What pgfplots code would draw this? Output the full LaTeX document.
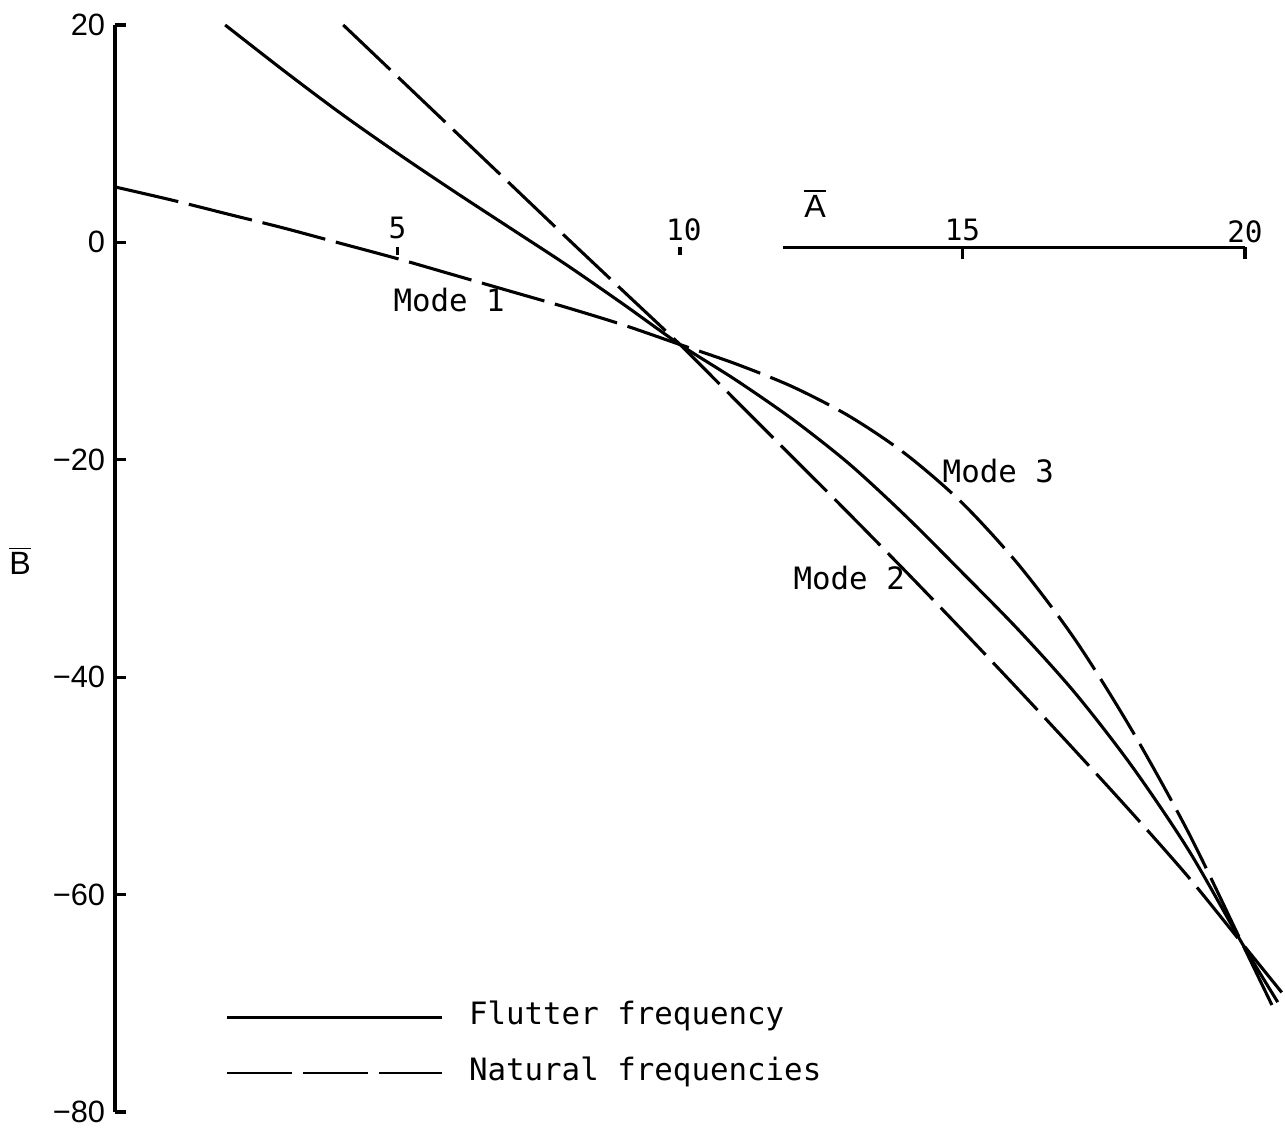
\documentclass[border=0pt]{standalone}
\usepackage{fontspec}
\usepackage{pgfplots}
\pgfplotsset{compat=1.18}
\newfontfamily\mono{DejaVu Sans Mono}
\newfontfamily\ysans{Liberation Sans}
\pgfplotstableread{
x y
1.95 20
3 15.75
4 11.85
5 8.2
6 4.7
7 1.3
8 -2.1
9 -5.7
10 -9.4
11 -12.7
12 -16.3
13 -20.4
14 -25.2
15 -30.4
16 -35.7
17 -41.5
18 -48.2
19 -55.9
19.95 -64.5
20.58 -69.9
}\flutter
\pgfplotstableread{
x y
0 5.1
1 3.9
2 2.6
3 1.3
4 -0.1
5 -1.5
6 -3.0
7 -4.5
8 -6.0
9 -7.6
10 -9.4
11 -11.2
12 -13.3
13 -16.0
14 -19.5
15 -24.0
16 -29.7
17 -36.6
18 -44.9
19 -54.3
19.95 -64.5
20.48 -70.2
}\modeone
\pgfplotstableread{
x y
4.04 20
5 15.25
6 10.3
7 5.35
8 0.4
9 -4.5
10 -9.4
11 -14.6
12 -19.8
13 -25.0
14 -30.3
15 -35.7
16 -41.2
17 -46.8
18 -52.5
19 -58.4
19.95 -64.5
20.65 -69.0
}\modetwo
\begin{document}
\begin{tikzpicture}
\begin{axis}[
  scale only axis,
  width=417.7pt, height=388.2pt,
  xmin=0, xmax=20.7, ymin=-80, ymax=20,
  axis x line=none,
  axis y line*=left,
  y axis line style={line width=1.2pt, -},
  ytick={-80,-60,-40,-20,0,20},
  yticklabels={−80,−60,−40,−20,0,20},
  yticklabel style={font=\ysans\fontsize{11}{13}\selectfont},
  tick align=inside,
  major tick length=4pt,
  tick style={line width=1.1pt, black},
  clip=false,
  legend style={at={(axis cs:1.95,-73.85)}, anchor=west, draw=none, fill=none,
    inner sep=0pt, row sep=9pt, column sep=9pt,
    font=\mono\fontsize{11}{13}\selectfont,
    nodes={inner sep=0pt, text height=8pt, text depth=3pt}},
  legend cell align=left,
  legend image code/.code={\draw[#1] (0pt,0pt) -- (76.8pt,0pt);},
]
\addplot[black, line width=1.1pt, smooth, forget plot] table {\flutter};
\addplot[black, line width=1.1pt, smooth, dash pattern=on 23.2pt off 3.9pt, forget plot] table {\modeone};
\addplot[black, line width=1.1pt, smooth, dash pattern=on 23.2pt off 3.9pt, forget plot] table {\modetwo};
\addlegendimage{black, line width=1.1pt}
\addlegendentry{Flutter frequency}
\addlegendimage{black, line width=0.9pt, dash pattern=on 23.2pt off 3.9pt}
\addlegendentry{Natural frequencies}
% partial x axis
\draw[line width=1.0pt] (axis cs:11.82,-0.45) -- (axis cs:20,-0.45);
\draw[line width=1.1pt] (axis cs:20,-0.45) -- (axis cs:20,-1.5);
\draw[line width=1.1pt] (axis cs:15,-0.45) -- (axis cs:15,-1.5);
\draw[line width=1.1pt] (axis cs:5,-0.45) -- (axis cs:5,-1.2);
\draw[line width=1.1pt] (axis cs:10,-0.45) -- (axis cs:10,-1.2);
\begin{scope}[every node/.style={font=\mono\fontsize{10.5}{12}\selectfont, inner sep=0pt}]
\node at (axis cs:5,1.3) {5};
\node at (axis cs:10.07,1.15) {10};
\node at (axis cs:15,1.15) {15};
\node at (axis cs:20,0.95) {20};
\end{scope}
\begin{scope}[every node/.style={font=\mono\fontsize{11}{13}\selectfont, inner sep=0pt, anchor=west}]
\node at (axis cs:4.92,-5.34) {Mode 1};
\node at (axis cs:14.64,-21.0) {Mode 3};
\node at (axis cs:12.0,-30.9) {Mode 2};
\end{scope}
\node[inner sep=0pt] at (axis cs:12.39,3.6) {$\overline{\hbox{\ysans\fontsize{11.5}{13}\selectfont A}}$};
\node[inner sep=0pt] at (axis cs:-1.68,-29.3) {$\overline{\hbox{\ysans\fontsize{11.5}{13}\selectfont B}}$};
\coordinate (bbll) at (axis cs:-2.035,-81.75);
\coordinate (bbur) at (axis cs:20.708,22.30);
\end{axis}
\pgfresetboundingbox
\path[use as bounding box] (bbll) rectangle (bbur);
\end{tikzpicture}
\end{document}
